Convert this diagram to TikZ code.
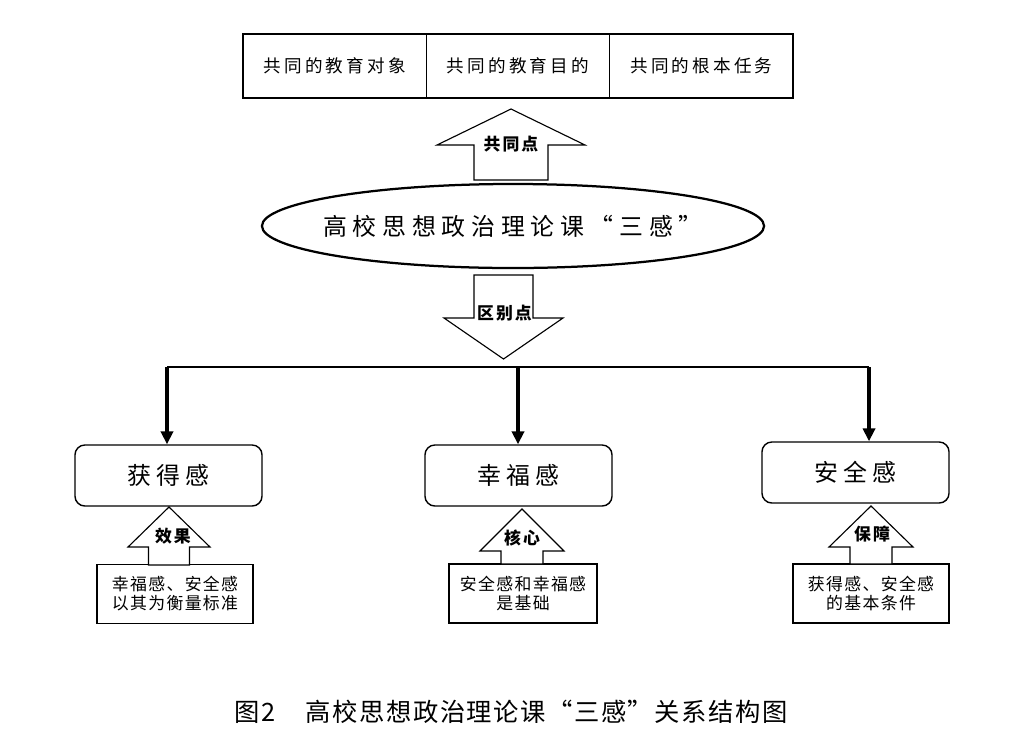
\documentclass[tikz,border=0pt]{standalone}
\usepackage{fontspec}
\usepackage{tikz}
\usetikzlibrary{arrows.meta,positioning,shapes.geometric}
\newfontfamily\cjk{Noto Sans CJK SC}
% size, baselineskip, letter spacing
\newcommand{\zhfont}[3]{\cjk\fontsize{#1}{#2}\selectfont\addfontfeatures{LetterSpace=#3}}
% x, tip, head base, foot, head half width, shaft half width
\newcommand{\blockarrow}[6]{%
  \draw[fat] (#1,#2) -- (#1+#5,#3) -- (#1+#6,#3) -- (#1+#6,#4)
    -- (#1-#6,#4) -- (#1-#6,#3) -- (#1-#5,#3) -- cycle;}

\begin{document}
\begin{tikzpicture}[x=0.025cm,y=-0.025cm,
  topbox/.style={draw,line width=0.9pt,outer sep=0pt,inner sep=0pt,
                 minimum width=4.583cm,minimum height=1.6cm,
                 font={\zhfont{12.5pt}{15pt}{18}}},
  core/.style={draw,ellipse,line width=1.6pt,inner sep=0pt,
               minimum width=12.55cm,minimum height=2.1cm},
  feelbox/.style={draw,rounded corners=7pt,line width=1pt,
                  minimum width=4.675cm,minimum height=1.525cm,
                  font={\zhfont{17pt}{20pt}{21}}},
  notebox/.style={draw,line width=1pt,inner sep=0pt,align=center,
                  minimum height=1.475cm,font={\zhfont{12pt}{13.5pt}{8}}},
  fat/.style={draw,line width=0.8pt,fill=white},
  tag/.style={font={\bfseries\zhfont{12pt}{14pt}{12}}},
  stem/.style={line width=2.4pt,-{Triangle[length=3.2mm,width=3mm]}},
  bar/.style={line width=1.4pt},
]
\useasboundingbox (0,0) rectangle (1029,751);

% common ground
\node[topbox] (obj) at (334.6,66) {共同的教育对象};
\node[topbox,right=0pt of obj] (aim) {共同的教育目的};
\node[topbox,right=0pt of aim] (task) {共同的根本任务};

\node[core] (core) at (513,226) {};
\node[font={\zhfont{17pt}{20pt}{24}}] (core-txt) at (core.center)
  {高校思想政治理论课“三感”};

\blockarrow{511}{109}{145}{180}{74}{37}
\node[tag] (common) at (511,144) {共同点};
\blockarrow{503.5}{359}{318}{275}{59.5}{29.5}
\node[tag] (differ) at (504.5,313) {区别点};

% the three senses
\node[feelbox] (gain) at (168.5,475.5) {获得感};
\node[feelbox] (happy) at (518.5,475.5) {幸福感};
\node[feelbox] (safe) at (855.5,472.5) {安全感};

\coordinate (bar-l) at (167,367);
\coordinate (bar-m) at (518,367);
\coordinate (bar-r) at (869,367);
\draw[bar] (bar-l) -- (bar-r);
\draw[stem] (bar-l) -- (bar-l |- gain.north);
\draw[stem] (bar-m) -- (bar-m |- happy.north);
\draw[stem] (bar-r) -- (bar-r |- safe.north);

\node[notebox,minimum width=3.9cm] (n1) at (175,594)
  {幸福感、安全感\\以其为衡量标准};
\node[notebox,minimum width=3.7cm] (n2) at (523,593.5)
  {安全感和幸福感\\是基础};
\node[notebox,minimum width=3.9cm] (n3) at (871,593.5)
  {获得感、安全感\\的基本条件};

\blockarrow{169}{507}{547}{565}{41}{20.5}
\node[tag] (effect) at (173,536) {效果};
\blockarrow{522}{509}{551}{564}{42}{21}
\node[tag] (centre) at (522,538) {核心};
\blockarrow{871}{506}{547}{564}{42}{21}
\node[tag] (guard) at (872,534) {保障};

\node[font={\zhfont{18pt}{20pt}{6}}] (cap) at (511,712)
  {图2\hspace{1.2em}高校思想政治理论课“三感”关系结构图};
\end{tikzpicture}
\end{document}
